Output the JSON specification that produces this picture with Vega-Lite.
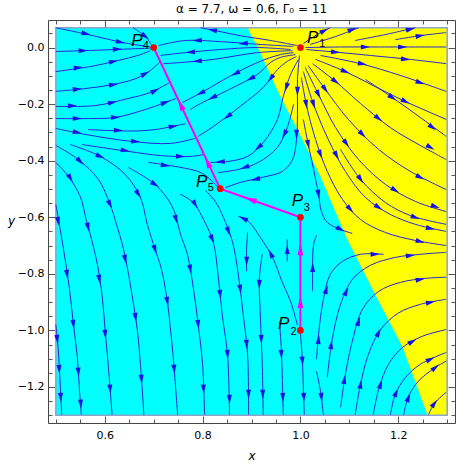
{
"$schema": "https://vega.github.io/schema/vega-lite/v6.json",
"width": 407, "height": 403,
"autosize": {"type": "none"},
"padding": {"left": 48, "top": 20, "right": 8, "bottom": 40},
"background": "white",
"title": {"text": "α = 7.7, ω = 0.6, Γ₀ = 11", "font": "DejaVu Sans", "fontSize": 12, "fontWeight": "normal", "color": "#000", "offset": 4, "anchor": "middle"},
"config": {"view": {"stroke": "#444", "strokeWidth": 1}},
"resolve": {"axis": {"x": "independent", "y": "independent"}},
"datasets": {
"lines": [
{"s":"A1","i":0,"x":0.5,"y":0.07},{"s":"A1","i":1,"x":0.566,"y":0.046},{"s":"A1","i":2,"x":0.636,"y":0.018},{"s":"A1","i":3,"x":0.693,"y":0.002},
{"s":"A2","i":0,"x":0.658,"y":0.07},{"s":"A2","i":1,"x":0.683,"y":0.039},{"s":"A2","i":2,"x":0.695,"y":0.011},
{"s":"A3","i":0,"x":0.5,"y":-0.014},{"s":"A3","i":1,"x":0.591,"y":-0.009},{"s":"A3","i":2,"x":0.693,"y":-0.002},
{"s":"A4","i":0,"x":0.5,"y":-0.085},{"s":"A4","i":1,"x":0.571,"y":-0.067},{"s":"A4","i":2,"x":0.622,"y":-0.048},{"s":"A4","i":3,"x":0.673,"y":-0.025},{"s":"A4","i":4,"x":0.693,"y":-0.011},
{"s":"A5","i":0,"x":0.5,"y":-0.155},{"s":"A5","i":1,"x":0.56,"y":-0.145},{"s":"A5","i":2,"x":0.616,"y":-0.131},{"s":"A5","i":3,"x":0.663,"y":-0.11},{"s":"A5","i":4,"x":0.693,"y":-0.081},{"s":"A5","i":5,"x":0.714,"y":-0.049},
{"s":"A6","i":0,"x":0.5,"y":-0.208},{"s":"A6","i":1,"x":0.581,"y":-0.205},{"s":"A6","i":2,"x":0.648,"y":-0.18},{"s":"A6","i":3,"x":0.693,"y":-0.159},{"s":"A6","i":4,"x":0.732,"y":-0.124},
{"s":"A7","i":0,"x":0.5,"y":-0.251},{"s":"A7","i":1,"x":0.571,"y":-0.251},{"s":"A7","i":2,"x":0.622,"y":-0.247},{"s":"A7","i":3,"x":0.683,"y":-0.219},{"s":"A7","i":4,"x":0.746,"y":-0.18},
{"s":"A8","i":0,"x":0.566,"y":-0.29},{"s":"A8","i":1,"x":0.656,"y":-0.295},{"s":"A8","i":2,"x":0.703,"y":-0.29},{"s":"A8","i":3,"x":0.765,"y":-0.269},
{"s":"A9","i":0,"x":0.5,"y":-0.286},{"s":"A9","i":1,"x":0.56,"y":-0.307},{"s":"A9","i":2,"x":0.656,"y":-0.332},{"s":"A9","i":3,"x":0.734,"y":-0.339},{"s":"A9","i":4,"x":0.785,"y":-0.321},
{"s":"A10","i":0,"x":0.554,"y":-0.343},{"s":"A10","i":1,"x":0.648,"y":-0.367},{"s":"A10","i":2,"x":0.714,"y":-0.382},{"s":"A10","i":3,"x":0.775,"y":-0.385},{"s":"A10","i":4,"x":0.804,"y":-0.378},
{"s":"A12","i":0,"x":0.689,"y":-0.406},{"s":"A12","i":1,"x":0.765,"y":-0.427},{"s":"A12","i":2,"x":0.796,"y":-0.442},{"s":"A12","i":3,"x":0.82,"y":-0.473},{"s":"A12","i":4,"x":0.832,"y":-0.495},
{"s":"B0","i":0,"x":0.5,"y":-0.979},{"s":"B0","i":1,"x":0.505,"y":-1.067},{"s":"B0","i":2,"x":0.509,"y":-1.19},{"s":"B0","i":3,"x":0.512,"y":-1.298},
{"s":"B1","i":0,"x":0.5,"y":-0.555},{"s":"B1","i":1,"x":0.509,"y":-0.643},{"s":"B1","i":2,"x":0.519,"y":-0.749},{"s":"B1","i":3,"x":0.528,"y":-0.855},{"s":"B1","i":4,"x":0.536,"y":-0.979},{"s":"B1","i":5,"x":0.544,"y":-1.095},{"s":"B1","i":6,"x":0.548,"y":-1.201},{"s":"B1","i":7,"x":0.552,"y":-1.298},
{"s":"B2","i":0,"x":0.5,"y":-0.406},{"s":"B2","i":1,"x":0.526,"y":-0.456},{"s":"B2","i":2,"x":0.55,"y":-0.527},{"s":"B2","i":3,"x":0.562,"y":-0.608},{"s":"B2","i":4,"x":0.573,"y":-0.678},{"s":"B2","i":5,"x":0.585,"y":-0.767},{"s":"B2","i":6,"x":0.595,"y":-0.883},{"s":"B2","i":7,"x":0.601,"y":-1.004},{"s":"B2","i":8,"x":0.607,"y":-1.12},{"s":"B2","i":9,"x":0.615,"y":-1.298},
{"s":"B3","i":0,"x":0.5,"y":-0.346},{"s":"B3","i":1,"x":0.546,"y":-0.396},{"s":"B3","i":2,"x":0.587,"y":-0.466},{"s":"B3","i":3,"x":0.611,"y":-0.555},{"s":"B3","i":4,"x":0.624,"y":-0.625},{"s":"B3","i":5,"x":0.636,"y":-0.696},{"s":"B3","i":6,"x":0.646,"y":-0.777},{"s":"B3","i":7,"x":0.658,"y":-0.898},{"s":"B3","i":8,"x":0.667,"y":-1.004},{"s":"B3","i":9,"x":0.673,"y":-1.12},{"s":"B3","i":10,"x":0.68,"y":-1.298},
{"s":"B4","i":0,"x":0.53,"y":-0.343},{"s":"B4","i":1,"x":0.591,"y":-0.385},{"s":"B4","i":2,"x":0.642,"y":-0.449},{"s":"B4","i":3,"x":0.673,"y":-0.53},{"s":"B4","i":4,"x":0.687,"y":-0.625},{"s":"B4","i":5,"x":0.703,"y":-0.714},{"s":"B4","i":6,"x":0.716,"y":-0.784},{"s":"B4","i":7,"x":0.728,"y":-0.898},{"s":"B4","i":8,"x":0.734,"y":-0.989},{"s":"B4","i":9,"x":0.74,"y":-1.095},{"s":"B4","i":10,"x":0.749,"y":-1.298},
{"s":"B5","i":0,"x":0.648,"y":-0.424},{"s":"B5","i":1,"x":0.703,"y":-0.484},{"s":"B5","i":2,"x":0.738,"y":-0.562},{"s":"B5","i":3,"x":0.755,"y":-0.661},{"s":"B5","i":4,"x":0.769,"y":-0.731},{"s":"B5","i":5,"x":0.781,"y":-0.848},{"s":"B5","i":6,"x":0.791,"y":-0.979},{"s":"B5","i":7,"x":0.8,"y":-1.12},{"s":"B5","i":8,"x":0.804,"y":-1.298},
{"s":"B6","i":0,"x":0.755,"y":-0.519},{"s":"B6","i":1,"x":0.781,"y":-0.548},{"s":"B6","i":2,"x":0.802,"y":-0.608},{"s":"B6","i":3,"x":0.822,"y":-0.689},{"s":"B6","i":4,"x":0.832,"y":-0.809},{"s":"B6","i":5,"x":0.84,"y":-0.943},{"s":"B6","i":6,"x":0.851,"y":-1.085},{"s":"B6","i":7,"x":0.855,"y":-1.298},
{"s":"B7","i":0,"x":0.806,"y":-0.505},{"s":"B7","i":1,"x":0.826,"y":-0.544},{"s":"B7","i":2,"x":0.84,"y":-0.59},{"s":"B7","i":3,"x":0.861,"y":-0.686},{"s":"B7","i":4,"x":0.873,"y":-0.802},{"s":"B7","i":5,"x":0.883,"y":-0.943},{"s":"B7","i":6,"x":0.892,"y":-1.085},{"s":"B7","i":7,"x":0.894,"y":-1.298},
{"s":"D1","i":0,"x":0.892,"y":-0.654},{"s":"D1","i":1,"x":0.89,"y":-0.714},{"s":"D1","i":2,"x":0.89,"y":-0.791},
{"s":"C5","i":0,"x":0.922,"y":-0.731},{"s":"C5","i":1,"x":0.916,"y":-0.82},{"s":"C5","i":2,"x":0.918,"y":-0.943},{"s":"C5","i":3,"x":0.922,"y":-1.12},{"s":"C5","i":4,"x":0.924,"y":-1.298},
{"s":"C1","i":0,"x":0.994,"y":-0.982},{"s":"C1","i":1,"x":0.98,"y":-0.898},{"s":"C1","i":2,"x":0.963,"y":-0.83},{"s":"C1","i":3,"x":0.943,"y":-0.742},{"s":"C1","i":4,"x":0.918,"y":-0.671},{"s":"C1","i":5,"x":0.894,"y":-0.615},{"s":"C1","i":6,"x":0.873,"y":-0.597},
{"s":"C2","i":0,"x":0.973,"y":-0.756},{"s":"C2","i":1,"x":0.973,"y":-0.678},
{"s":"C4","i":0,"x":0.957,"y":-0.968},{"s":"C4","i":1,"x":0.961,"y":-1.067},{"s":"C4","i":2,"x":0.963,"y":-1.173},{"s":"C4","i":3,"x":0.965,"y":-1.298},
{"s":"C3","i":0,"x":1.0,"y":-1.011},{"s":"C3","i":1,"x":1.004,"y":-1.102},{"s":"C3","i":2,"x":1.006,"y":-1.208},{"s":"C3","i":3,"x":1.008,"y":-1.298},
{"s":"C7","i":0,"x":1.033,"y":-1.145},{"s":"C7","i":1,"x":1.041,"y":-1.215},{"s":"C7","i":2,"x":1.047,"y":-1.298},
{"s":"E1","i":0,"x":1.033,"y":-1.102},{"s":"E1","i":1,"x":1.037,"y":-1.014},{"s":"E1","i":2,"x":1.047,"y":-0.89},{"s":"E1","i":3,"x":1.061,"y":-0.802},{"s":"E1","i":4,"x":1.086,"y":-0.756},{"s":"E1","i":5,"x":1.123,"y":-0.731},{"s":"E1","i":6,"x":1.17,"y":-0.731},
{"s":"E0","i":0,"x":1.025,"y":-0.862},{"s":"E0","i":1,"x":1.025,"y":-0.756},{"s":"E0","i":2,"x":1.027,"y":-0.696},{"s":"E0","i":3,"x":1.033,"y":-0.664},
{"s":"G1","i":0,"x":1.006,"y":-0.254},{"s":"G1","i":1,"x":1.016,"y":-0.343},{"s":"G1","i":2,"x":1.027,"y":-0.431},{"s":"G1","i":3,"x":1.037,"y":-0.519},{"s":"G1","i":4,"x":1.043,"y":-0.58},{"s":"G1","i":5,"x":1.055,"y":-0.618},{"s":"G1","i":6,"x":1.082,"y":-0.643},{"s":"G1","i":7,"x":1.106,"y":-0.657},
{"s":"E2","i":0,"x":1.055,"y":-1.166},{"s":"E2","i":1,"x":1.065,"y":-1.032},{"s":"E2","i":2,"x":1.082,"y":-0.908},{"s":"E2","i":3,"x":1.106,"y":-0.82},{"s":"E2","i":4,"x":1.143,"y":-0.77},{"s":"E2","i":5,"x":1.194,"y":-0.742},{"s":"E2","i":6,"x":1.245,"y":-0.731},{"s":"E2","i":7,"x":1.298,"y":-0.724},
{"s":"E3","i":0,"x":1.082,"y":-1.272},{"s":"E3","i":1,"x":1.092,"y":-1.155},{"s":"E3","i":2,"x":1.106,"y":-1.039},{"s":"E3","i":3,"x":1.127,"y":-0.925},{"s":"E3","i":4,"x":1.16,"y":-0.862},{"s":"E3","i":5,"x":1.205,"y":-0.83},{"s":"E3","i":6,"x":1.256,"y":-0.816},{"s":"E3","i":7,"x":1.298,"y":-0.812},
{"s":"E4","i":0,"x":1.112,"y":-1.298},{"s":"E4","i":1,"x":1.123,"y":-1.19},{"s":"E4","i":2,"x":1.139,"y":-1.085},{"s":"E4","i":3,"x":1.164,"y":-0.997},{"s":"E4","i":4,"x":1.2,"y":-0.939},{"s":"E4","i":5,"x":1.245,"y":-0.908},{"s":"E4","i":6,"x":1.298,"y":-0.89},
{"s":"E5","i":0,"x":1.149,"y":-1.298},{"s":"E5","i":1,"x":1.16,"y":-1.208},{"s":"E5","i":2,"x":1.18,"y":-1.12},{"s":"E5","i":3,"x":1.209,"y":-1.06},{"s":"E5","i":4,"x":1.249,"y":-1.021},{"s":"E5","i":5,"x":1.298,"y":-0.997},
{"s":"E6","i":0,"x":1.184,"y":-1.298},{"s":"E6","i":1,"x":1.194,"y":-1.226},{"s":"E6","i":2,"x":1.215,"y":-1.166},{"s":"E6","i":3,"x":1.245,"y":-1.12},{"s":"E6","i":4,"x":1.298,"y":-1.078},
{"s":"E7","i":0,"x":1.211,"y":-1.298},{"s":"E7","i":1,"x":1.221,"y":-1.233},{"s":"E7","i":2,"x":1.241,"y":-1.18},{"s":"E7","i":3,"x":1.276,"y":-1.131},{"s":"E7","i":4,"x":1.298,"y":-1.109},
{"s":"E8","i":0,"x":1.262,"y":-1.298},{"s":"E8","i":1,"x":1.274,"y":-1.258},{"s":"E8","i":2,"x":1.298,"y":-1.219},
{"s":"Y1","i":0,"x":1.006,"y":0.014},{"s":"Y1","i":1,"x":1.037,"y":0.049},{"s":"Y1","i":2,"x":1.061,"y":0.07},
{"s":"Y2","i":0,"x":1.02,"y":0.011},{"s":"Y2","i":1,"x":1.072,"y":0.039},{"s":"Y2","i":2,"x":1.119,"y":0.07},
{"s":"Y3","i":0,"x":1.112,"y":0.025},{"s":"Y3","i":1,"x":1.174,"y":0.046},{"s":"Y3","i":2,"x":1.235,"y":0.07},
{"s":"Y4","i":0,"x":1.194,"y":0.028},{"s":"Y4","i":1,"x":1.245,"y":0.042},{"s":"Y4","i":2,"x":1.298,"y":0.053},
{"s":"Y5","i":0,"x":1.01,"y":0.0},{"s":"Y5","i":1,"x":1.082,"y":0.002},{"s":"Y5","i":2,"x":1.164,"y":0.002},{"s":"Y5","i":3,"x":1.298,"y":0.002},
{"s":"Y6","i":0,"x":1.012,"y":-0.007},{"s":"Y6","i":1,"x":1.072,"y":-0.016},{"s":"Y6","i":2,"x":1.143,"y":-0.028},{"s":"Y6","i":3,"x":1.225,"y":-0.042},{"s":"Y6","i":4,"x":1.298,"y":-0.057},
{"s":"F7","i":0,"x":1.041,"y":-0.028},{"s":"F7","i":1,"x":1.123,"y":-0.057},{"s":"F7","i":2,"x":1.205,"y":-0.099},{"s":"F7","i":3,"x":1.298,"y":-0.155},
{"s":"F6","i":0,"x":1.031,"y":-0.042},{"s":"F6","i":1,"x":1.092,"y":-0.085},{"s":"F6","i":2,"x":1.153,"y":-0.138},{"s":"F6","i":3,"x":1.215,"y":-0.191},{"s":"F6","i":4,"x":1.298,"y":-0.254},
{"s":"F5a","i":0,"x":1.133,"y":-0.113},{"s":"F5a","i":1,"x":1.194,"y":-0.184},{"s":"F5a","i":2,"x":1.245,"y":-0.247},{"s":"F5a","i":3,"x":1.298,"y":-0.314},
{"s":"F5","i":0,"x":1.025,"y":-0.057},{"s":"F5","i":1,"x":1.072,"y":-0.12},{"s":"F5","i":2,"x":1.123,"y":-0.198},{"s":"F5","i":3,"x":1.184,"y":-0.283},{"s":"F5","i":4,"x":1.245,"y":-0.346},{"s":"F5","i":5,"x":1.298,"y":-0.396},
{"s":"F4","i":0,"x":1.016,"y":-0.064},{"s":"F4","i":1,"x":1.051,"y":-0.148},{"s":"F4","i":2,"x":1.098,"y":-0.254},{"s":"F4","i":3,"x":1.16,"y":-0.36},{"s":"F4","i":4,"x":1.225,"y":-0.438},{"s":"F4","i":5,"x":1.298,"y":-0.502},
{"s":"F3","i":0,"x":1.01,"y":-0.071},{"s":"F3","i":1,"x":1.037,"y":-0.166},{"s":"F3","i":2,"x":1.072,"y":-0.283},{"s":"F3","i":3,"x":1.119,"y":-0.396},{"s":"F3","i":4,"x":1.174,"y":-0.484},{"s":"F3","i":5,"x":1.235,"y":-0.544},{"s":"F3","i":6,"x":1.298,"y":-0.58},
{"s":"G6","i":0,"x":1.082,"y":-0.36},{"s":"G6","i":1,"x":1.123,"y":-0.466},{"s":"G6","i":2,"x":1.174,"y":-0.548},{"s":"G6","i":3,"x":1.225,"y":-0.594},{"s":"G6","i":4,"x":1.298,"y":-0.625},
{"s":"G5","i":0,"x":1.006,"y":-0.085},{"s":"G5","i":1,"x":1.027,"y":-0.201},{"s":"G5","i":2,"x":1.057,"y":-0.325},{"s":"G5","i":3,"x":1.092,"y":-0.438},{"s":"G5","i":4,"x":1.133,"y":-0.53},{"s":"G5","i":5,"x":1.184,"y":-0.59},{"s":"G5","i":6,"x":1.235,"y":-0.625},{"s":"G5","i":7,"x":1.298,"y":-0.65},
{"s":"G3","i":0,"x":1.002,"y":-0.106},{"s":"G3","i":1,"x":1.012,"y":-0.201},{"s":"G3","i":2,"x":1.031,"y":-0.325},{"s":"G3","i":3,"x":1.055,"y":-0.438},{"s":"G3","i":4,"x":1.086,"y":-0.537},{"s":"G3","i":5,"x":1.123,"y":-0.608},{"s":"G3","i":6,"x":1.174,"y":-0.654},{"s":"G3","i":7,"x":1.235,"y":-0.682},{"s":"G3","i":8,"x":1.298,"y":-0.7},
{"s":"R1","i":0,"x":0.994,"y":0.007},{"s":"R1","i":1,"x":0.939,"y":0.025},{"s":"R1","i":2,"x":0.877,"y":0.042},{"s":"R1","i":3,"x":0.826,"y":0.06},{"s":"R1","i":4,"x":0.796,"y":0.07},
{"s":"R2","i":0,"x":0.986,"y":0.004},{"s":"R2","i":1,"x":0.918,"y":0.011},{"s":"R2","i":2,"x":0.836,"y":0.021},{"s":"R2","i":3,"x":0.765,"y":0.025},{"s":"R2","i":4,"x":0.71,"y":0.007},
{"s":"R3","i":0,"x":0.98,"y":-0.007},{"s":"R3","i":1,"x":0.912,"y":0.0},{"s":"R3","i":2,"x":0.836,"y":-0.007},{"s":"R3","i":3,"x":0.765,"y":-0.018},{"s":"R3","i":4,"x":0.714,"y":-0.028},
{"s":"R4","i":0,"x":0.984,"y":-0.011},{"s":"R4","i":1,"x":0.912,"y":-0.018},{"s":"R4","i":2,"x":0.822,"y":-0.042},{"s":"R4","i":3,"x":0.755,"y":-0.053},{"s":"R4","i":4,"x":0.72,"y":-0.057},
{"s":"R5","i":0,"x":0.986,"y":-0.018},{"s":"R5","i":1,"x":0.959,"y":-0.025},{"s":"R5","i":2,"x":0.912,"y":-0.053},{"s":"R5","i":3,"x":0.851,"y":-0.106},{"s":"R5","i":4,"x":0.802,"y":-0.155},{"s":"R5","i":5,"x":0.759,"y":-0.194},
{"s":"R6","i":0,"x":0.99,"y":-0.025},{"s":"R6","i":1,"x":0.959,"y":-0.035},{"s":"R6","i":2,"x":0.939,"y":-0.053},{"s":"R6","i":3,"x":0.912,"y":-0.095},{"s":"R6","i":4,"x":0.863,"y":-0.141},{"s":"R6","i":5,"x":0.796,"y":-0.198},{"s":"R6","i":6,"x":0.775,"y":-0.219},
{"s":"R7","i":0,"x":0.992,"y":-0.032},{"s":"R7","i":1,"x":0.973,"y":-0.049},{"s":"R7","i":2,"x":0.953,"y":-0.078},{"s":"R7","i":3,"x":0.924,"y":-0.141},{"s":"R7","i":4,"x":0.877,"y":-0.208},{"s":"R7","i":5,"x":0.822,"y":-0.279},{"s":"R7","i":6,"x":0.791,"y":-0.314},
{"s":"R8","i":0,"x":0.996,"y":-0.042},{"s":"R8","i":1,"x":0.98,"y":-0.095},{"s":"R8","i":2,"x":0.965,"y":-0.173},{"s":"R8","i":3,"x":0.953,"y":-0.254},{"s":"R8","i":4,"x":0.924,"y":-0.336},{"s":"R8","i":5,"x":0.892,"y":-0.385},{"s":"R8","i":6,"x":0.851,"y":-0.403},{"s":"R8","i":7,"x":0.816,"y":-0.406},
{"s":"R9","i":0,"x":0.986,"y":-0.201},{"s":"R9","i":1,"x":0.973,"y":-0.283},{"s":"R9","i":2,"x":0.953,"y":-0.353},{"s":"R9","i":3,"x":0.914,"y":-0.406},{"s":"R9","i":4,"x":0.873,"y":-0.431},{"s":"R9","i":5,"x":0.832,"y":-0.442},
{"s":"R10","i":0,"x":0.998,"y":-0.028},{"s":"R10","i":1,"x":0.994,"y":-0.113},{"s":"R10","i":2,"x":0.994,"y":-0.237},{"s":"R10","i":3,"x":0.992,"y":-0.325},{"s":"R10","i":4,"x":0.984,"y":-0.396},{"s":"R10","i":5,"x":0.963,"y":-0.438},{"s":"R10","i":6,"x":0.922,"y":-0.459},{"s":"R10","i":7,"x":0.877,"y":-0.477},{"s":"R10","i":8,"x":0.847,"y":-0.495}
],
"arrows": [
{"x":0.562,"y":0.049,"a":102},{"x":0.632,"y":0.019,"a":103},{"x":0.683,"y":0.039,"a":127},
{"x":0.556,"y":-0.011,"a":88},{"x":0.626,"y":-0.006,"a":88},
{"x":0.546,"y":-0.071,"a":82},{"x":0.618,"y":-0.049,"a":78},
{"x":0.544,"y":-0.147,"a":84},{"x":0.618,"y":-0.131,"a":82},{"x":0.683,"y":-0.092,"a":62},
{"x":0.534,"y":-0.206,"a":89},{"x":0.616,"y":-0.194,"a":78},{"x":0.703,"y":-0.152,"a":62},
{"x":0.544,"y":-0.251,"a":90},{"x":0.622,"y":-0.247,"a":88},{"x":0.724,"y":-0.194,"a":70},
{"x":0.628,"y":-0.293,"a":92},{"x":0.74,"y":-0.279,"a":79},
{"x":0.544,"y":-0.3,"a":101},{"x":0.663,"y":-0.332,"a":93},
{"x":0.642,"y":-0.364,"a":99},{"x":0.755,"y":-0.385,"a":92},
{"x":0.724,"y":-0.417,"a":99},
{"x":0.503,"y":-1.032,"a":173},{"x":0.507,"y":-1.138,"a":177},{"x":0.51,"y":-1.237,"a":177},
{"x":0.505,"y":-0.615,"a":169},{"x":0.523,"y":-0.802,"a":172},{"x":0.536,"y":-0.979,"a":173},{"x":0.546,"y":-1.148,"a":176},{"x":0.551,"y":-1.261,"a":176},
{"x":0.53,"y":-0.463,"a":149},{"x":0.566,"y":-0.636,"a":166},{"x":0.589,"y":-0.82,"a":171},{"x":0.601,"y":-1.014,"a":175},{"x":0.611,"y":-1.208,"a":176},
{"x":0.55,"y":-0.403,"a":135},{"x":0.611,"y":-0.555,"a":154},{"x":0.642,"y":-0.749,"a":168},{"x":0.663,"y":-0.954,"a":172},{"x":0.675,"y":-1.173,"a":176},
{"x":0.591,"y":-0.385,"a":112},{"x":0.669,"y":-0.519,"a":147},{"x":0.703,"y":-0.714,"a":162},{"x":0.728,"y":-0.898,"a":169},{"x":0.742,"y":-1.138,"a":175},
{"x":0.703,"y":-0.484,"a":122},{"x":0.746,"y":-0.608,"a":164},{"x":0.775,"y":-0.784,"a":170},{"x":0.791,"y":-0.979,"a":174},{"x":0.802,"y":-1.208,"a":177},
{"x":0.785,"y":-0.555,"a":150},{"x":0.82,"y":-0.678,"a":156},{"x":0.836,"y":-0.873,"a":174},{"x":0.851,"y":-1.085,"a":176},{"x":0.855,"y":-1.244,"a":178},
{"x":0.853,"y":-0.65,"a":160},{"x":0.877,"y":-0.855,"a":173},{"x":0.89,"y":-1.05,"a":176},{"x":0.894,"y":-1.226,"a":179},
{"x":0.89,"y":-0.756,"a":180},
{"x":0.916,"y":-0.837,"a":180},{"x":0.92,"y":-1.032,"a":178},{"x":0.923,"y":-1.226,"a":179},
{"x":0.939,"y":-0.728,"a":333},{"x":0.883,"y":-0.604,"a":297},
{"x":0.973,"y":-0.714,"a":0},
{"x":0.961,"y":-1.085,"a":177},{"x":0.964,"y":-1.237,"a":178},
{"x":1.004,"y":-1.109,"a":176},{"x":1.007,"y":-1.237,"a":178},
{"x":1.043,"y":-1.237,"a":173},
{"x":1.037,"y":-1.032,"a":5},{"x":1.053,"y":-0.855,"a":16},{"x":1.153,"y":-0.731,"a":90},
{"x":1.025,"y":-0.777,"a":0},
{"x":1.016,"y":-0.343,"a":169},{"x":1.037,"y":-0.519,"a":170},{"x":1.082,"y":-0.643,"a":118},
{"x":1.063,"y":-1.05,"a":8},{"x":1.094,"y":-0.862,"a":26},{"x":1.225,"y":-0.735,"a":83},
{"x":1.09,"y":-1.173,"a":9},{"x":1.119,"y":-0.968,"a":17},{"x":1.245,"y":-0.82,"a":81},
{"x":1.123,"y":-1.19,"a":9},{"x":1.16,"y":-1.007,"a":26},{"x":1.266,"y":-0.901,"a":79},
{"x":1.164,"y":-1.19,"a":18},{"x":1.229,"y":-1.039,"a":61},
{"x":1.196,"y":-1.219,"a":24},{"x":1.266,"y":-1.102,"a":64},
{"x":1.221,"y":-1.237,"a":21},{"x":1.276,"y":-1.131,"a":51},
{"x":1.274,"y":-1.258,"a":36},
{"x":1.049,"y":0.06,"a":63},{"x":1.106,"y":0.064,"a":69},{"x":1.225,"y":0.065,"a":77},{"x":1.245,"y":0.042,"a":81},
{"x":1.133,"y":0.002,"a":90},{"x":1.209,"y":0.002,"a":90},
{"x":1.072,"y":-0.016,"a":95},{"x":1.215,"y":-0.041,"a":96},
{"x":1.127,"y":-0.058,"a":101},{"x":1.245,"y":-0.124,"a":110},
{"x":1.092,"y":-0.085,"a":112},{"x":1.215,"y":-0.191,"a":117},
{"x":1.188,"y":-0.177,"a":124},{"x":1.27,"y":-0.283,"a":127},
{"x":1.072,"y":-0.12,"a":128},{"x":1.16,"y":-0.251,"a":129},{"x":1.266,"y":-0.353,"a":120},
{"x":1.051,"y":-0.148,"a":145},{"x":1.127,"y":-0.307,"a":135},{"x":1.245,"y":-0.459,"a":117},
{"x":1.037,"y":-0.166,"a":154},{"x":1.094,"y":-0.339,"a":144},{"x":1.194,"y":-0.505,"a":122},{"x":1.276,"y":-0.562,"a":108},
{"x":1.123,"y":-0.466,"a":146},{"x":1.235,"y":-0.601,"a":110},
{"x":1.027,"y":-0.201,"a":163},{"x":1.074,"y":-0.382,"a":152},{"x":1.16,"y":-0.565,"a":124},{"x":1.266,"y":-0.64,"a":103},
{"x":1.012,"y":-0.201,"a":170},{"x":1.041,"y":-0.378,"a":159},{"x":1.102,"y":-0.572,"a":138},{"x":1.245,"y":-0.686,"a":105},
{"x":0.82,"y":0.062,"a":281},
{"x":0.883,"y":0.014,"a":266},{"x":0.789,"y":0.025,"a":268},
{"x":0.775,"y":-0.016,"a":265},
{"x":0.789,"y":-0.048,"a":265},
{"x":0.867,"y":-0.092,"a":243},{"x":0.796,"y":-0.161,"a":242},
{"x":0.898,"y":-0.11,"a":242},{"x":0.82,"y":-0.177,"a":244},
{"x":0.939,"y":-0.11,"a":218},{"x":0.851,"y":-0.244,"a":233},
{"x":0.971,"y":-0.141,"a":198},{"x":0.914,"y":-0.353,"a":229},{"x":0.836,"y":-0.404,"a":267},
{"x":0.967,"y":-0.307,"a":207},{"x":0.886,"y":-0.424,"a":251},
{"x":0.994,"y":-0.155,"a":180},{"x":0.992,"y":-0.307,"a":181},{"x":0.908,"y":-0.466,"a":257}
],
"sep": [
{"i":0,"x":1.0,"y":-1.0},{"i":1,"x":1.0,"y":-0.6},{"i":2,"x":0.836,"y":-0.499},{"i":3,"x":0.7,"y":0.0}
],
"separrows": [
{"x":1.0,"y":-0.9,"a":0},{"x":1.0,"y":-0.713,"a":0},{"x":0.898,"y":-0.537,"a":290},{"x":0.81,"y":-0.405,"a":335},{"x":0.755,"y":-0.202,"a":335}
],
"pts": [
{"n":"P1","x":1.0,"y":0.0},{"n":"P2","x":1.0,"y":-1.0},{"n":"P3","x":1.0,"y":-0.6},{"n":"P4","x":0.7,"y":0.0},{"n":"P5","x":0.836,"y":-0.499}
],
"labs": [
{"t":"P","x":0.666,"y":0.022},{"t":"P","x":1.025,"y":0.035},{"t":"P","x":0.798,"y":-0.474},{"t":"P","x":0.994,"y":-0.544},{"t":"P","x":0.966,"y":-0.979}
],
"subs": [
{"t":"4","x":0.684,"y":0.004},{"t":"1","x":1.045,"y":0.011},{"t":"5","x":0.817,"y":-0.495},{"t":"3","x":1.013,"y":-0.567},{"t":"2","x":0.986,"y":-1.004}
],
"region": [{"x0":0.5,"x1":1.3,"y0":-1.3,"y1":0.07}],
"yellow": [
{"bx":0.892,"by":0.07},{"bx":0.918,"by":-0.018},{"bx":0.959,"by":-0.173},{"bx":0.994,"by":-0.29},{"bx":1.041,"by":-0.456},{"bx":1.074,"by":-0.59},{"bx":1.098,"by":-0.686},{"bx":1.153,"by":-0.873},{"bx":1.209,"by":-1.06},{"bx":1.26,"by":-1.3}
]
},
"layer": [
{"data": {"name": "region"}, "mark": {"type": "rect", "fill": "#00ffff"},
 "encoding": {
  "x": {"field": "x0", "type": "quantitative", "scale": {"domain": [0.484, 1.316], "nice": false, "zero": false},
        "axis": {"orient": "bottom", "values": [0.6, 0.8, 1.0, 1.2], "format": ".1f", "ticks": false, "domain": false, "grid": false, "labelPadding": 6, "labelFont": "DejaVu Sans", "labelFontSize": 11, "labelColor": "#000", "title": "x", "titleFont": "DejaVu Sans", "titleFontStyle": "italic", "titleFontWeight": "normal", "titleFontSize": 12, "titleColor": "#000", "titleY": 32, "titleBaseline": "middle"}},
  "x2": {"field": "x1"},
  "y": {"field": "y0", "type": "quantitative", "scale": {"domain": [-1.3274, 0.0974], "nice": false, "zero": false},
        "axis": {"orient": "left", "values": [0, -0.2, -0.4, -0.6, -0.8, -1.0, -1.2], "format": ".1f", "ticks": false, "domain": false, "grid": false, "labelPadding": 4, "labelFont": "DejaVu Sans", "labelFontSize": 11, "labelColor": "#000", "title": "y", "titleFont": "DejaVu Sans", "titleFontStyle": "italic", "titleFontWeight": "normal", "titleFontSize": 12, "titleColor": "#000", "titleAngle": 0, "titleX": -37, "titleY": 200, "titleAlign": "center", "titleBaseline": "middle"}},
  "y2": {"field": "y1"}}},
{"data": {"name": "yellow"}, "mark": {"type": "area", "orient": "horizontal", "fill": "#ffff00"},
 "encoding": {
  "y": {"field": "by", "type": "quantitative", "scale": {"domain": [-1.3274, 0.0974], "nice": false, "zero": false},
        "axis": {"orient": "left", "values": [0, -0.2, -0.4, -0.6, -0.8, -1.0, -1.2], "labels": false, "domain": false, "grid": false, "ticks": true, "tickSize": 7, "offset": -7, "tickColor": "#555", "title": null}},
  "x": {"field": "bx", "type": "quantitative", "scale": {"domain": [0.484, 1.316], "nice": false, "zero": false},
        "axis": {"orient": "bottom", "values": [0.6, 0.8, 1.0, 1.2], "labels": false, "domain": false, "grid": false, "ticks": true, "tickSize": 7, "offset": -7, "tickColor": "#555", "title": null}},
  "x2": {"datum": 1.3}}},
{"data": {"name": "region"}, "mark": {"type": "rect", "fill": null, "fillOpacity": 0, "stroke": "#8da3cc", "strokeWidth": 1.5},
 "encoding": {
  "x": {"field": "x0", "type": "quantitative", "scale": {"domain": [0.484, 1.316], "nice": false, "zero": false},
        "axis": {"orient": "bottom", "values": [0.5, 0.55, 0.65, 0.7, 0.75, 0.85, 0.9, 0.95, 1.05, 1.1, 1.15, 1.25, 1.3], "labels": false, "domain": false, "grid": false, "ticks": true, "tickSize": 4, "offset": -4, "tickColor": "#555", "title": null}},
  "x2": {"field": "x1"},
  "y": {"field": "y0", "type": "quantitative", "scale": {"domain": [-1.3274, 0.0974], "nice": false, "zero": false},
        "axis": {"orient": "left", "values": [0.05, -0.05, -0.1, -0.15, -0.25, -0.3, -0.35, -0.45, -0.5, -0.55, -0.65, -0.7, -0.75, -0.85, -0.9, -0.95, -1.05, -1.1, -1.15, -1.25, -1.3], "labels": false, "domain": false, "grid": false, "ticks": true, "tickSize": 4, "offset": -4, "tickColor": "#555", "title": null}},
  "y2": {"field": "y1"}}},
{"data": {"name": "lines"}, "mark": {"type": "line", "stroke": "#2626d8", "strokeWidth": 1, "interpolate": "catmull-rom"},
 "encoding": {
  "x": {"field": "x", "type": "quantitative", "scale": {"domain": [0.484, 1.316], "nice": false, "zero": false},
        "axis": {"orient": "top", "values": [0.6, 0.8, 1.0, 1.2], "labels": false, "domain": false, "grid": false, "ticks": true, "tickSize": 7, "offset": -7, "tickColor": "#555", "title": null}},
  "y": {"field": "y", "type": "quantitative", "scale": {"domain": [-1.3274, 0.0974], "nice": false, "zero": false},
        "axis": {"orient": "right", "values": [0, -0.2, -0.4, -0.6, -0.8, -1.0, -1.2], "labels": false, "domain": false, "grid": false, "ticks": true, "tickSize": 7, "offset": -7, "tickColor": "#555", "title": null}},
  "detail": {"field": "s", "type": "nominal"},
  "order": {"field": "i", "type": "quantitative"}}},
{"data": {"name": "arrows"}, "mark": {"type": "point", "shape": "M0,-1L0.55,1L-0.55,1Z", "filled": true, "size": 85, "color": "#1414e6", "opacity": 1, "strokeWidth": 0},
 "encoding": {
  "x": {"field": "x", "type": "quantitative", "scale": {"domain": [0.484, 1.316], "nice": false, "zero": false},
        "axis": {"orient": "top", "values": [0.5, 0.55, 0.65, 0.7, 0.75, 0.85, 0.9, 0.95, 1.05, 1.1, 1.15, 1.25, 1.3], "labels": false, "domain": false, "grid": false, "ticks": true, "tickSize": 4, "offset": -4, "tickColor": "#555", "title": null}},
  "y": {"field": "y", "type": "quantitative", "scale": {"domain": [-1.3274, 0.0974], "nice": false, "zero": false},
        "axis": {"orient": "right", "values": [0.05, -0.05, -0.1, -0.15, -0.25, -0.3, -0.35, -0.45, -0.5, -0.55, -0.65, -0.7, -0.75, -0.85, -0.9, -0.95, -1.05, -1.1, -1.15, -1.25, -1.3], "labels": false, "domain": false, "grid": false, "ticks": true, "tickSize": 4, "offset": -4, "tickColor": "#555", "title": null}},
  "angle": {"field": "a", "type": "quantitative", "scale": null}}},
{"data": {"name": "sep"}, "mark": {"type": "line", "stroke": "#ff00ff", "strokeWidth": 2},
 "encoding": {
  "x": {"field": "x", "type": "quantitative", "scale": {"domain": [0.484, 1.316], "nice": false, "zero": false}, "axis": null},
  "y": {"field": "y", "type": "quantitative", "scale": {"domain": [-1.3274, 0.0974], "nice": false, "zero": false}, "axis": null},
  "order": {"field": "i", "type": "quantitative"}}},
{"data": {"name": "separrows"}, "mark": {"type": "point", "shape": "M0,-1L0.5,1L-0.5,1Z", "filled": true, "size": 140, "color": "#ff00ff", "opacity": 1, "strokeWidth": 0},
 "encoding": {
  "x": {"field": "x", "type": "quantitative", "scale": {"domain": [0.484, 1.316], "nice": false, "zero": false}, "axis": null},
  "y": {"field": "y", "type": "quantitative", "scale": {"domain": [-1.3274, 0.0974], "nice": false, "zero": false}, "axis": null},
  "angle": {"field": "a", "type": "quantitative", "scale": null}}},
{"data": {"name": "pts"}, "mark": {"type": "circle", "color": "#ff0000", "size": 45, "opacity": 1},
 "encoding": {
  "x": {"field": "x", "type": "quantitative", "scale": {"domain": [0.484, 1.316], "nice": false, "zero": false}, "axis": null},
  "y": {"field": "y", "type": "quantitative", "scale": {"domain": [-1.3274, 0.0974], "nice": false, "zero": false}, "axis": null}}},
{"data": {"name": "labs"}, "mark": {"type": "text", "font": "Liberation Sans", "fontStyle": "italic", "fontSize": 17, "color": "#000", "align": "center", "baseline": "middle"},
 "encoding": {
  "x": {"field": "x", "type": "quantitative", "scale": {"domain": [0.484, 1.316], "nice": false, "zero": false}, "axis": null},
  "y": {"field": "y", "type": "quantitative", "scale": {"domain": [-1.3274, 0.0974], "nice": false, "zero": false}, "axis": null},
  "text": {"field": "t"}}},
{"data": {"name": "subs"}, "mark": {"type": "text", "font": "Liberation Sans", "fontSize": 11, "color": "#000", "align": "center", "baseline": "middle"},
 "encoding": {
  "x": {"field": "x", "type": "quantitative", "scale": {"domain": [0.484, 1.316], "nice": false, "zero": false}, "axis": null},
  "y": {"field": "y", "type": "quantitative", "scale": {"domain": [-1.3274, 0.0974], "nice": false, "zero": false}, "axis": null},
  "text": {"field": "t"}}}
]
}
